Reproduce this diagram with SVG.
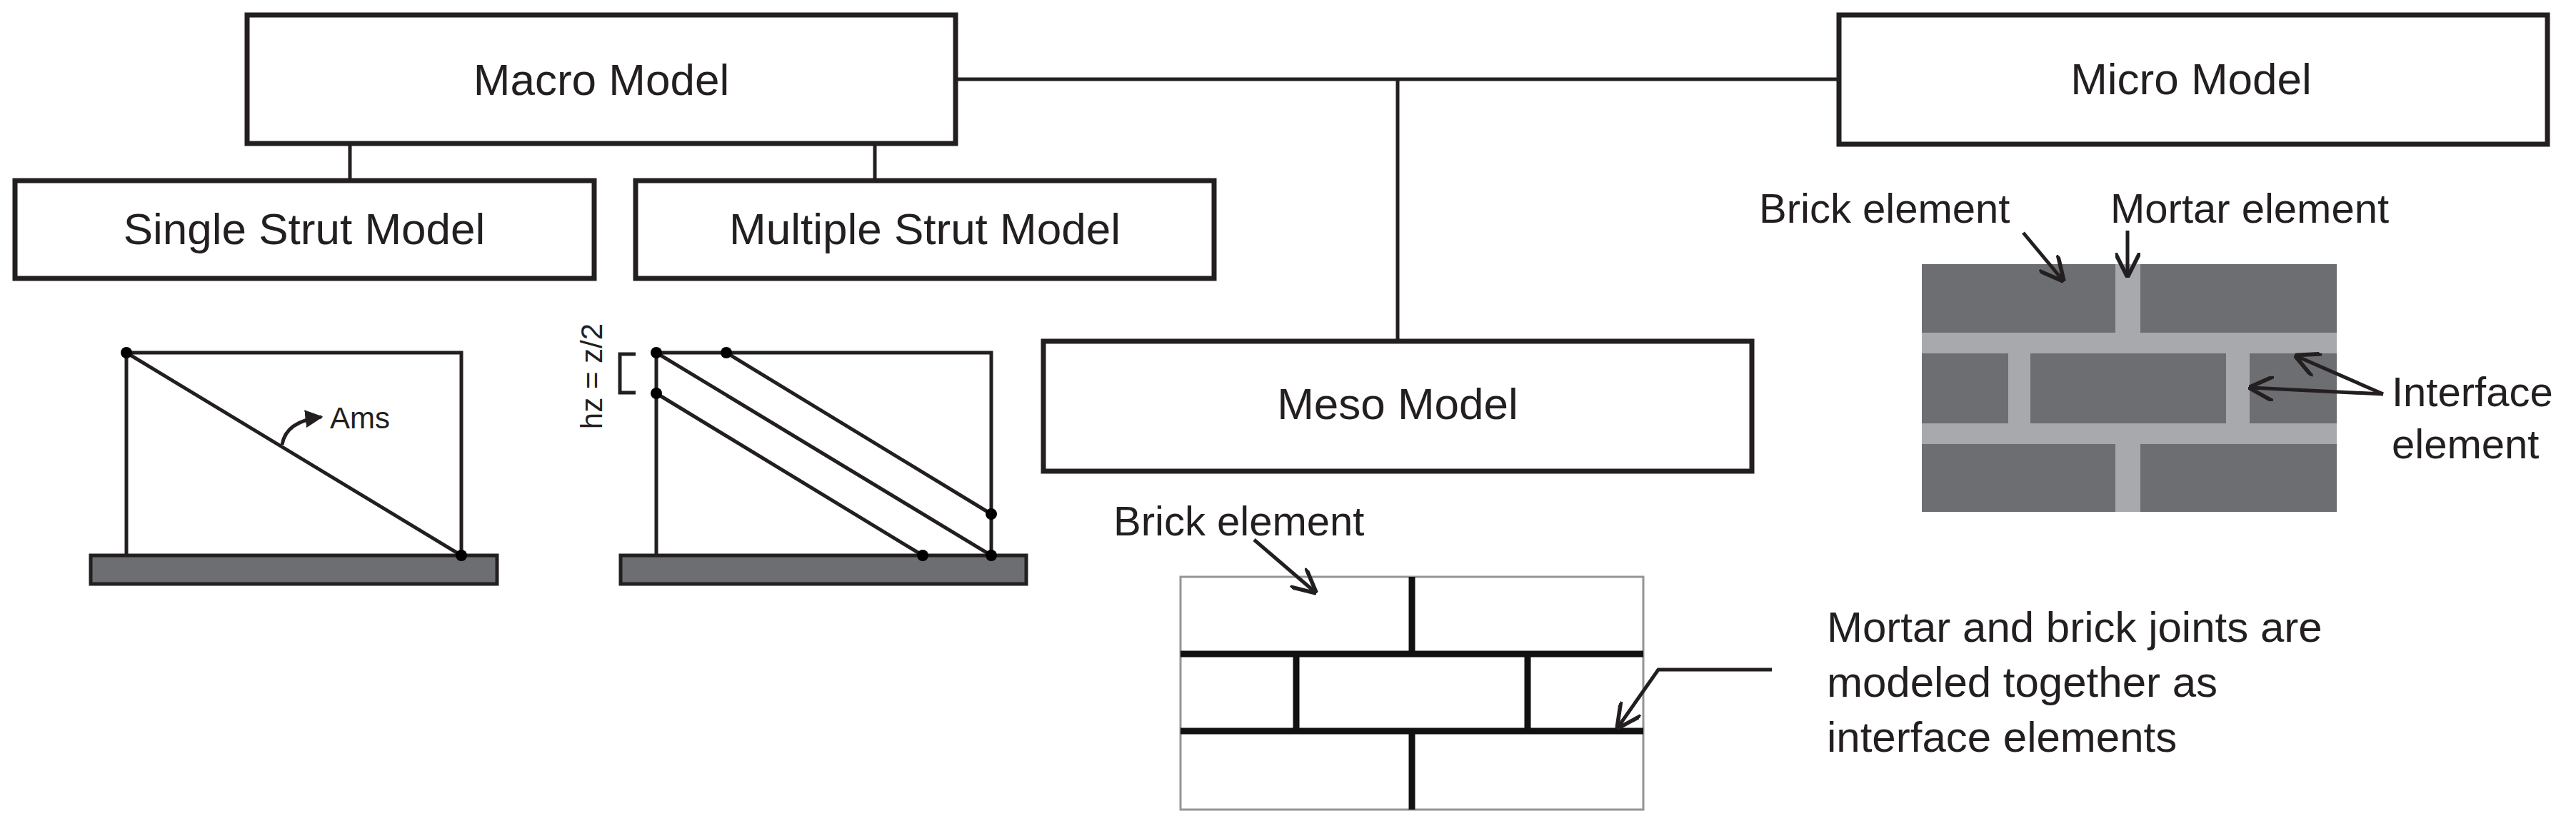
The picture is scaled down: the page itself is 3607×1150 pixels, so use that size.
<svg xmlns="http://www.w3.org/2000/svg" width="3607" height="1150" viewBox="0 0 3607 1150">
<style>
.box{fill:#fff;stroke:#231f20;stroke-width:7}
.ln{stroke:#231f20;stroke-width:5;fill:none}
.t{font-family:"Liberation Sans",Arial,sans-serif;fill:#231f20}
.big{font-size:62px;text-anchor:middle}
.lab{font-size:58px}
.dark{fill:#6d6e71}
.mor{fill:#a7a9ac}
.blk{stroke:#111;stroke-width:9}
</style>
<defs>
<marker id="ah" viewBox="0 0 10 10" refX="9" refY="5" markerWidth="7" markerHeight="7" orient="auto"><path d="M0,0 L10,5 L0,10" fill="none" stroke="#231f20" stroke-width="1.6"/></marker>
<marker id="af" viewBox="0 0 10 10" refX="9" refY="5" markerWidth="5" markerHeight="5" orient="auto"><path d="M0,0 L10,5 L0,10z" fill="#231f20"/></marker>
</defs>
<g id="connectors">
<path class="ln" d="M1338,111 H2575 M1957,111 V478 M490,201 V253 M1225,201 V253"/>
</g>
<g id="macro"><rect class="box" x="346" y="21" width="992" height="180"/><text class="t big" x="842" y="133">Macro Model</text></g>
<g id="micro"><rect class="box" x="2575" y="21" width="992" height="181"/><text class="t big" x="3068" y="132">Micro Model</text></g>
<g id="meso"><rect class="box" x="1461" y="478" width="992" height="182"/><text class="t big" x="1957" y="587">Meso Model</text></g>
<g id="single"><rect class="box" x="21" y="253" width="811" height="137"/><text class="t big" x="426" y="342">Single Strut Model</text></g>
<g id="multiple"><rect class="box" x="890" y="253" width="810" height="137"/><text class="t big" x="1295" y="342">Multiple Strut Model</text></g>
<g id="single-fig">
<rect x="127" y="778" width="569" height="40" fill="#6d6e71" stroke="#231f20" stroke-width="5"/>
<path class="ln" d="M177,778 V494 H646 V778 M177,494 L646,778"/>
<circle cx="177" cy="494" r="8"/><circle cx="646" cy="778" r="8"/>
<path class="ln" d="M395,623 Q400,590 450,584" stroke-width="3" marker-end="url(#af)"/>
<text class="t" x="462" y="600" font-size="42">Ams</text>
</g>
<g id="multiple-fig">
<rect x="869" y="778" width="568" height="40" fill="#6d6e71" stroke="#231f20" stroke-width="5"/>
<path class="ln" d="M919,778 V494 H1388 V778 M919,494 L1388,778 M1017,494 L1388,720 M919,551 L1292,778"/>
<circle cx="919" cy="494" r="8"/><circle cx="1017" cy="494" r="8"/><circle cx="919" cy="551" r="8"/><circle cx="1388" cy="720" r="8"/><circle cx="1292" cy="778" r="8"/><circle cx="1388" cy="778" r="8"/>
<path class="ln" stroke-width="4" d="M890,496 H868 V550 H890"/>
<text class="t" font-size="42" text-anchor="middle" transform="translate(843,527) rotate(-90)">hz = z/2</text>
</g>
<g id="micro-fig">
<rect class="dark" x="2691" y="370" width="581" height="347"/>
<rect class="mor" x="2691" y="466" width="581" height="29"/>
<rect class="mor" x="2691" y="593" width="581" height="29"/>
<rect class="mor" x="2962" y="370" width="35" height="347"/>
<rect class="dark" x="2691" y="495" width="581" height="98"/>
<rect class="mor" x="2812" y="495" width="31" height="98"/>
<rect class="mor" x="3117" y="495" width="33" height="98"/>
<text class="t lab" x="2463" y="312">Brick element</text>
<text class="t lab" x="2955" y="312">Mortar element</text>
<text class="t lab" x="3349" y="569">Interface</text>
<text class="t lab" x="3349" y="642">element</text>
<path class="ln" stroke-width="3" marker-end="url(#ah)" d="M2833,326 L2888,392"/>
<path class="ln" stroke-width="3" marker-end="url(#ah)" d="M2979,323 V385"/>
<path class="ln" stroke-width="3" marker-end="url(#ah)" d="M3337,552 L3216,499"/>
<path class="ln" stroke-width="3" marker-end="url(#ah)" d="M3337,552 L3152,543"/>
</g>
<g id="meso-fig">
<rect x="1653" y="808" width="648" height="326" fill="#fff" stroke="#939598" stroke-width="3"/>
<path class="blk" d="M1653,916 H2301 M1653,1024 H2301 M1977,808 V916 M1815,916 V1024 M2139,916 V1024 M1977,1024 V1134"/>
<text class="t lab" x="1559" y="750">Brick element</text>
<path class="ln" stroke-width="3" marker-end="url(#ah)" d="M1756,756 L1841,829"/>
<path class="ln" stroke-width="3" marker-end="url(#ah)" d="M2481,938 H2322 L2266,1018"/>
<text class="t" font-size="60" x="2558" y="899">Mortar and brick joints are</text>
<text class="t" font-size="60" x="2558" y="976">modeled together as</text>
<text class="t" font-size="60" x="2558" y="1053">interface elements</text>
</g>
</svg>
